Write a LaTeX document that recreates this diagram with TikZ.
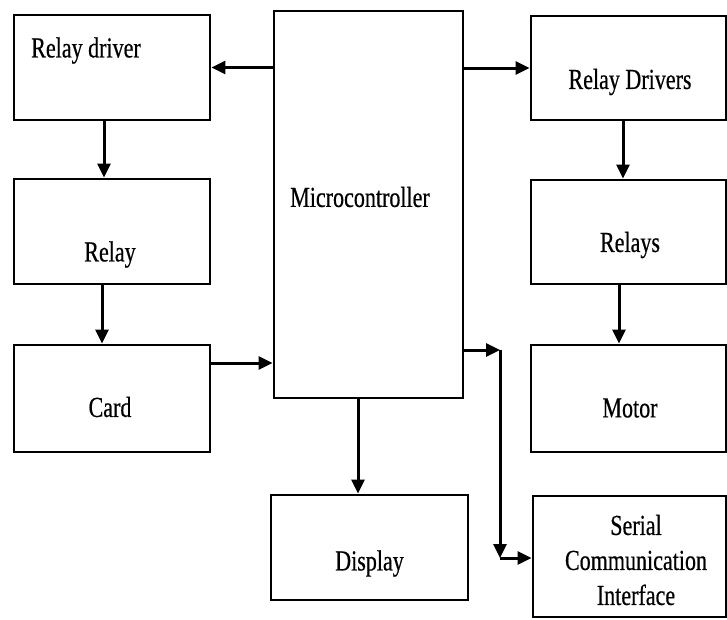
\documentclass[tikz,border=0pt]{standalone}
\usepackage{fontspec}
\setmainfont{Liberation Serif}[FakeStretch=0.76, FakeBold=0.5]
\usetikzlibrary{arrows.meta}
\tikzstyle{block} = [rectangle, draw=black, line width=2.9pt, minimum width=196pt, minimum height=105pt, inner sep=0pt]
\tikzstyle{arrow} = [line width=3pt,-{Triangle[length=14pt,width=13pt]}]

\begin{document}
\begin{tikzpicture}[x=1pt, y=-1pt, font=\fontsize{29}{35}\selectfont]

		\useasboundingbox (0,0) rectangle (727,619);

		% Draw the nodes
		\node (rdrv) [block, label={[shift={(-26pt,17pt)}]center:Relay driver}] at (112,67.5) {};
		\node (relay) [block, label={[shift={(-2pt,-23pt)}]center:Relay}] at (112,231.5) {};
		\node (card) [block, minimum height=107pt, label={[shift={(-2pt,-8.5pt)}]center:Card}] at (112,398.5) {};
		\node (mcu) [block, minimum width=189pt, minimum height=387pt, label={[shift={(-8.5pt,7.5pt)}]center:Microcontroller}] at (368.5,204.5) {};
		\node (disp) [block, minimum width=197pt, label={[shift={(0pt,-16pt)}]center:Display}] at (369.5,547.5) {};
		\node (rdrvs) [block, minimum width=195pt, minimum height=104pt, label={[shift={(1.5pt,-14pt)}]center:Relay Drivers}] at (628.5,68) {};
		\node (relays) [block, minimum width=195pt, minimum height=104pt, label={[shift={(1.5pt,-13pt)}]center:Relays}] at (628.5,232) {};
		\node (motor) [block, minimum width=195pt, minimum height=107pt, label={[shift={(1.5pt,-9.5pt)}]center:Motor}] at (628.5,398.5) {};
		\node (serial) [block, minimum width=193pt, minimum height=121pt, label={[align=center, shift={(6.5pt,-3.5pt)}]center:Serial\\Communication\\Interface}] at (629.5,556.5) {};
		\coordinate (tap) at (500,350);
		\coordinate (bend) at (500,558);

		% Draw the arrows
		\draw [arrow] (mcu.west |- rdrv.east) -- (rdrv.east);
		\draw [arrow] (mcu.east |- rdrvs.west) -- (rdrvs.west);
		\draw [arrow] ([xshift=-8pt]rdrv.south) -- ([xshift=-8pt]relay.north);
		\draw [arrow] ([xshift=-10pt]relay.south) -- ([xshift=-10pt]card.north);
		\draw [arrow] ([yshift=35.5pt]card.east) -- ([yshift=35.5pt]card.east -| mcu.west);
		\draw [arrow] ([xshift=-5.5pt]rdrvs.south) -- ([xshift=-5.5pt]relays.north);
		\draw [arrow] ([xshift=-9.5pt]relays.south) -- ([xshift=-9.5pt]motor.north);
		\draw [arrow] ([xshift=-10.5pt]mcu.south) -- ([xshift=-10.5pt]mcu.south |- disp.north);
		\draw [arrow] (mcu.east |- tap) -- (tap);
		\draw [arrow] (tap) -- (bend);
		\draw [arrow] (bend) -- (bend -| serial.west);

	\end{tikzpicture}
\end{document}
